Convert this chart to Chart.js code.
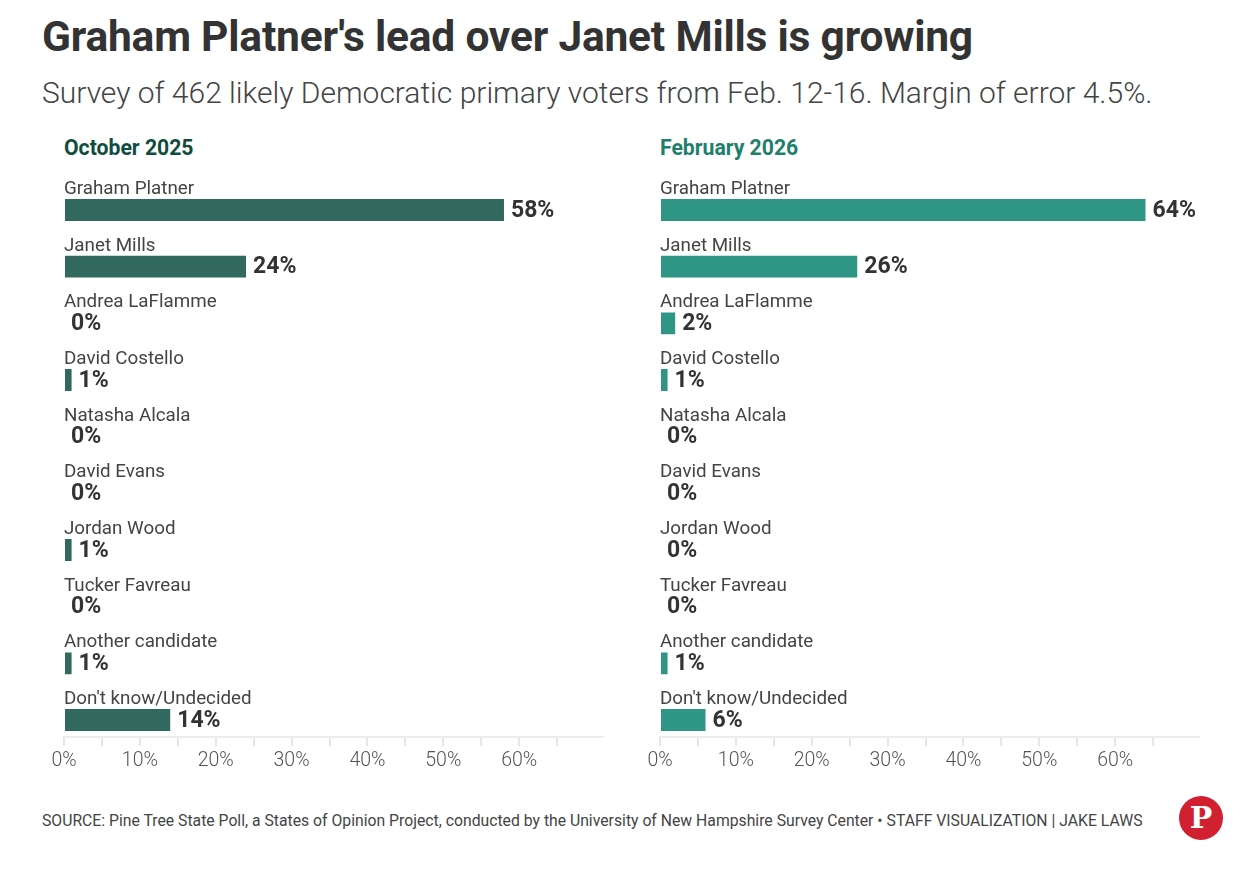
<!DOCTYPE html>
<html>
<head>
<meta charset="utf-8">
<script src="https://cdn.jsdelivr.net/npm/chart.js@4.4.1/dist/chart.umd.min.js"></script>
<style>
  body { margin: 0; background: #fff; font-family: Roboto, sans-serif; }
  #page { position: relative; width: 1253px; height: 894px; overflow: hidden; }
  h1 { position: absolute; left: 42px; top: 12px; margin: 0; font-size: 42.5px; font-weight: 700; color: #333; letter-spacing: -0.2px; white-space: nowrap; }
  .sub { position: absolute; left: 42px; top: 75px; font-size: 30px; font-weight: 300; color: #444; white-space: nowrap; }
  .head { position: absolute; top: 135px; font-size: 21.2px; font-weight: 700; white-space: nowrap; }
  .chartbox { position: absolute; top: 160px; width: 571px; height: 630px; }
  .foot { position: absolute; left: 42px; top: 811px; font-size: 15.75px; color: #444; white-space: nowrap; }
  .logo { position: absolute; left: 1179px; top: 796px; width: 44px; height: 44px; border-radius: 50%; background: #d1202f;
          color: #fff; font-family: "DejaVu Serif", serif; font-weight: 700; font-size: 30px; line-height: 44px; text-align: center; }
</style>
</head>
<body>
<div id="page">
  <h1>Graham Platner's lead over Janet Mills is growing</h1>
  <div class="sub">Survey of 462 likely Democratic primary voters from Feb. 12-16. Margin of error 4.5%.</div>
  <div class="head" style="left:64px;color:#0f4d3e;">October 2025</div>
  <div class="head" style="left:660px;color:#1f7f6d;">February 2026</div>
  <div class="chartbox" style="left:44px;"><canvas id="octChart"></canvas></div>
  <div class="chartbox" style="left:640px;"><canvas id="febChart"></canvas></div>
  <div class="foot">SOURCE: Pine Tree State Poll, a States of Opinion Project, conducted by the University of New Hampshire Survey Center • STAFF VISUALIZATION | JAKE LAWS</div>
  <div class="logo">P</div>
</div>
<script>
// Datos
var candidates = ['Graham Platner', 'Janet Mills', 'Andrea LaFlamme', 'David Costello', 'Natasha Alcala',
    'David Evans', 'Jordan Wood', 'Tucker Favreau', 'Another candidate', "Don't know/Undecided"];
var october2025 = [58, 24, 0, 1, 0, 0, 1, 0, 1, 14];
var february2026 = [64, 26, 2, 1, 0, 0, 0, 0, 1, 6];
var tickValues = [0, 5, 10, 15, 20, 25, 30, 35, 40, 45, 50, 55, 60, 65];

// Etiquetas encima de cada barra y valor al final
var barLabels = {
    id: 'barLabels',
    afterDatasetsDraw: function (chart) {
        var ctx = chart.ctx;
        var meta = chart.getDatasetMeta(0);
        var values = chart.data.datasets[0].data;
        ctx.save();
        meta.data.forEach(function (bar, i) {
            var top = bar.y - bar.height / 2;
            ctx.font = '400 18.8px Roboto';
            ctx.fillStyle = '#444';
            ctx.textAlign = 'left';
            ctx.textBaseline = 'alphabetic';
            ctx.fillText(chart.data.labels[i], chart.chartArea.left, top - 5);
            ctx.font = '700 23px Roboto';
            ctx.fillStyle = '#333';
            ctx.textBaseline = 'middle';
            ctx.fillText(values[i] + '%', bar.x + 7, bar.y + 1);
        });
        ctx.restore();
    }
};

function makeChart(id, data, color) {
    var ctx = document.getElementById(id).getContext('2d');
    return new Chart(ctx, {
        type: 'bar',
        data: {
            labels: candidates,
            datasets: [{
                data: data,
                backgroundColor: color,
                barPercentage: 0.385,
                categoryPercentage: 1
            }]
        },
        options: {
            indexAxis: 'y',
            responsive: true,
            maintainAspectRatio: false,
            animation: false,
            events: [],
            layout: { padding: { left: 20, right: 12.4, top: 21.7, bottom: 41.7 } },
            plugins: { legend: { display: false }, tooltip: { enabled: false } },
            scales: {
                y: { display: false },
                x: {
                    position: { y: 9.3 },
                    min: 0,
                    max: 71,
                    afterBuildTicks: function (axis) {
                        axis.ticks = tickValues.map(function (v) { return { value: v }; });
                    },
                    grid: { drawOnChartArea: false, drawTicks: true, tickLength: 8, color: '#e6e6e6', lineWidth: 2 },
                    border: { display: true, color: '#ececec', width: 2 },
                    ticks: {
                        padding: 4,
                        color: '#555',
                        autoSkip: false,
                        maxRotation: 0,
                        minRotation: 0,
                        font: { family: 'Roboto', size: 19.5, weight: '300' },
                        callback: function (v) { return v % 10 === 0 ? v + '%' : ''; }
                    }
                }
            }
        },
        plugins: [barLabels]
    });
}

makeChart('octChart', october2025, '#31695e');
makeChart('febChart', february2026, '#2f9686');
</script>
</body>
</html>
